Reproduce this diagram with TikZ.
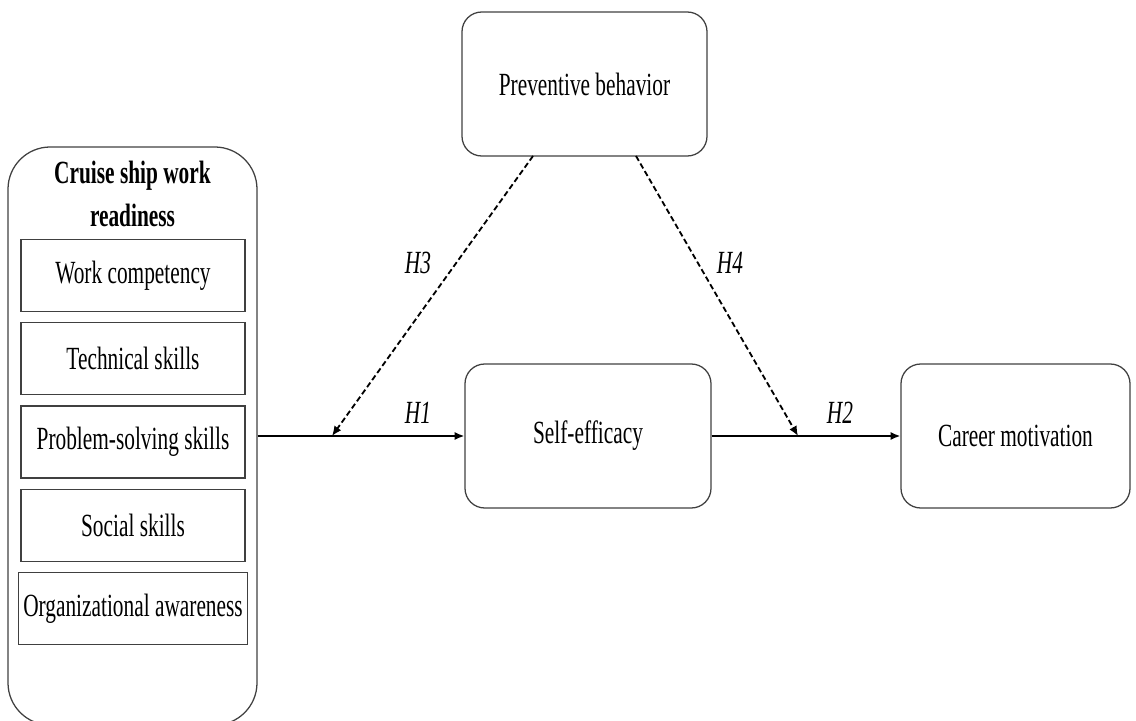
\documentclass[tikz,border=0pt]{standalone}
\usepackage{fontspec}
\setmainfont{Liberation Serif}[FakeStretch=0.66]
\usetikzlibrary{arrows.meta, positioning}
\definecolor{boxline}{HTML}{404040}

\begin{document}
\begin{tikzpicture}[
  >={Latex[length=7pt, width=6pt]},
  every node/.style={font=\fontsize{23}{30}\selectfont},
  construct/.style={draw=boxline, line width=0.9pt, rounded corners=14pt, minimum height=3.6cm},
  item/.style={draw=boxline, line width=0.9pt, minimum width=5.6cm, minimum height=1.8cm},
  effect/.style={line width=1.8pt, ->},
  moderate/.style={line width=1.3pt, dash pattern=on 4pt off 2.2pt, ->},
  hyp/.style={font=\fontsize{23}{30}\selectfont\itshape},
]

\useasboundingbox (0,0) rectangle (28.4,18);

% Cruise ship work readiness
\node[draw=boxline, line width=0.9pt, rounded corners=30pt,
  minimum width=6.225cm, minimum height=14.45cm] (ready) at (3.3125,7.1) {};
\node[font=\fontsize{23}{30}\selectfont\bfseries, align=center] (title) at (3.3125,13.15) {Cruise ship work\\readiness};
\node[item] (wc) at (3.325,11.1125) {Work competency};
\node[item, below=0.25cm of wc] (ts) {Technical skills};
\node[item, below=0.25cm of ts] (ps) {Problem-solving skills};
\node[item, below=0.25cm of ps] (ss) {Social skills};
\node[item, below=0.25cm of ss] (oa) {Organizational awareness};

% Constructs
\node[construct, minimum width=6.125cm] (prev) at (14.6125,15.9) {Preventive behavior};
\node[construct, minimum width=6.15cm] (self) at (14.7,7.1) {Self-efficacy};
\node[construct, minimum width=5.725cm] (career) at (25.3875,7.1) {Career motivation};

% Direct paths
\draw[effect] (ready.east) -- (self.west);
\draw[effect] (self.east) -- (career.west);

% Moderating paths
\coordinate (p1) at (13.325,14.1);
\coordinate (p2) at (15.9,14.1);
\coordinate (m1) at (8.3,7.1);
\coordinate (m2) at (19.95,7.1);
\draw[moderate] (p1) -- (m1);
\draw[moderate] (p2) -- (m2);

% Hypotheses
\node[hyp] (h1) at (10.45,7.675) {H1};
\node[hyp] (h2) at (21.0,7.675) {H2};
\node[hyp] (h3) at (10.45,11.425) {H3};
\node[hyp] (h4) at (18.25,11.425) {H4};

\end{tikzpicture}
\end{document}
